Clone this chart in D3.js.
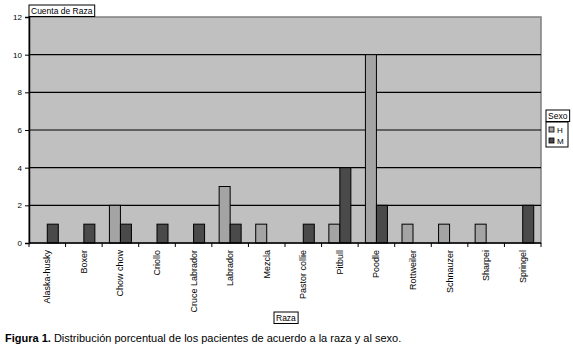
<!DOCTYPE html>
<html>
<head>
<meta charset="utf-8">
<script src="https://cdn.jsdelivr.net/npm/d3@7"></script>
<style>
  body { margin: 0; background: #fff; }
  svg { display: block; font-family: "Liberation Sans", Arial, sans-serif; }
</style>
</head>
<body>
<div id="chart"></div>
<script>
const breeds = ['Alaska-husky', 'Boxer', 'Chow chow', 'Criollo', 'Cruce Labrador', 'Labrador', 'Mezcla',
  'Pastor collie', 'Pitbull', 'Poodle', 'Rottweiler', 'Schnauzer', 'Sharpei', 'Springel'];
const sexes = ['H', 'M'];
const valuesH = [0, 0, 2, 0, 0, 3, 1, 0, 1, 10, 1, 1, 1, 0];
const valuesM = [1, 1, 1, 1, 1, 1, 0, 1, 4, 2, 0, 0, 0, 2];
const yTicks = [0, 2, 4, 6, 8, 10, 12];

const colors = { H: '#a4a4a4', M: '#4a4a4a' };

function createBarChart() {
  const W = 573, H = 351;
  const margin = { top: 17, right: 32, bottom: 108, left: 29 };
  const width = W - margin.left - margin.right;
  const height = H - margin.top - margin.bottom;

  const svg = d3.select('#chart').append('svg')
    .attr('width', W)
    .attr('height', H);

  const g = svg.append('g')
    .attr('transform', `translate(${margin.left},${margin.top})`);

  const x = d3.scaleBand().domain(breeds).range([0, width]);
  const y = d3.scaleLinear().domain([0, 12]).range([height, 0]);
  const barW = 11;

  // plot background + shadowed frame
  g.append('rect')
    .attr('width', width).attr('height', height)
    .attr('fill', '#c0c0c0')
    .attr('stroke', '#808080')
    .attr('stroke-width', 1.5);

  // gridlines
  g.append('g')
    .selectAll('line')
    .data(yTicks.filter(d => d > 0 && d < 12))
    .join('line')
    .attr('x1', 0).attr('x2', width)
    .attr('y1', d => y(d)).attr('y2', d => y(d))
    .attr('stroke', '#000')
    .attr('stroke-width', 1.2);

  // bars
  const rows = breeds.map((b, i) => ({ breed: b, H: valuesH[i], M: valuesM[i] }));
  g.append('g')
    .selectAll('g')
    .data(rows)
    .join('g')
    .attr('transform', d => `translate(${x(d.breed) + x.bandwidth() / 2},0)`)
    .selectAll('rect')
    .data(d => sexes.map(s => ({ s, v: d[s] })).filter(e => e.v > 0))
    .join('rect')
    .attr('x', d => d.s === 'H' ? -barW : 0)
    .attr('width', barW)
    .attr('y', d => y(d.v))
    .attr('height', d => y(0) - y(d.v))
    .attr('fill', d => colors[d.s])
    .attr('stroke', '#000')
    .attr('stroke-width', 1);

  // y axis
  const yAxis = g.append('g')
    .call(d3.axisLeft(y).tickValues(yTicks).tickSize(4).tickPadding(3));
  yAxis.select('.domain').attr('stroke', '#000').attr('stroke-width', 1.5);
  yAxis.selectAll('text').attr('font-size', 8).attr('font-family', '"Liberation Sans", Arial, sans-serif');

  // x axis with ticks at band edges
  const xAxis = g.append('g').attr('transform', `translate(0,${height})`);
  xAxis.append('line')
    .attr('x1', 0).attr('x2', width)
    .attr('stroke', '#000').attr('stroke-width', 1.5);
  xAxis.selectAll('.xtick')
    .data(breeds.map(b => x(b)).concat([width]))
    .join('line')
    .attr('class', 'xtick')
    .attr('x1', d => d).attr('x2', d => d)
    .attr('y1', 0).attr('y2', 4)
    .attr('stroke', '#000');
  xAxis.selectAll('.xlabel')
    .data(breeds)
    .join('text')
    .attr('class', 'xlabel')
    .attr('transform', d => `translate(${x(d) + x.bandwidth() / 2 + 3},7) rotate(-90)`)
    .attr('text-anchor', 'end')
    .attr('font-size', 9)
    .text(d => d);

  // boxed labels
  function boxedLabel(text, bx, by, size) {
    const lg = svg.append('g');
    const box = lg.append('rect');
    const t = lg.append('text')
      .attr('x', bx + 2).attr('y', by + size)
      .attr('font-size', size)
      .text(text);
    const bb = t.node().getBBox();
    box.attr('x', bx).attr('y', by)
      .attr('width', bb.width + 4).attr('height', size + 3)
      .attr('fill', '#fff').attr('stroke', '#000').attr('stroke-width', 1);
  }
  boxedLabel('Cuenta de Raza', 29, 5, 8.5);
  boxedLabel('Raza', 274, 312, 8.5);

  // legend
  boxedLabel('Sexo', 546, 110, 8.5);
  const leg = svg.append('g').attr('transform', 'translate(546,122)');
  leg.append('rect')
    .attr('width', 22).attr('height', 25)
    .attr('fill', '#fff').attr('stroke', '#000');
  sexes.forEach((s, i) => {
    const row = leg.append('g').attr('transform', `translate(3,${5 + i * 11})`);
    row.append('rect').attr('width', 5).attr('height', 5)
      .attr('fill', colors[s]).attr('stroke', '#000').attr('stroke-width', 0.8);
    row.append('text').attr('x', 8).attr('y', 5.5).attr('font-size', 8).text(s);
  });

  // caption
  const cap = svg.append('text').attr('x', 5).attr('y', 342).attr('font-size', 11);
  cap.append('tspan').attr('font-weight', 'bold').text('Figura 1.');
  cap.append('tspan').text(' Distribución porcentual de los pacientes de acuerdo a la raza y al sexo.');
}

createBarChart();
</script>
</body>
</html>
